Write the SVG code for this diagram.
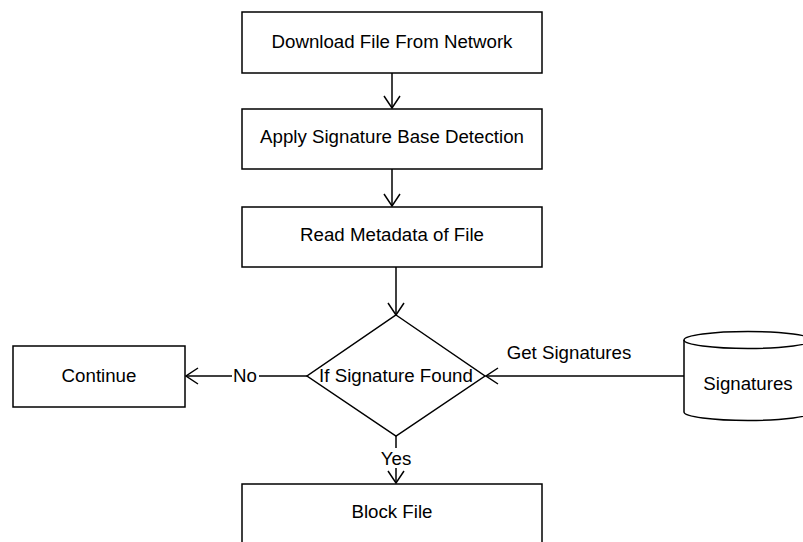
<svg xmlns="http://www.w3.org/2000/svg" width="803" height="542" viewBox="0 0 803 542">
  <defs>
    <style>
      .box { fill: #ffffff; stroke: #000000; stroke-width: 1.5; }
      .edge { fill: none; stroke: #000000; stroke-width: 1.5; }
      .label { font-family: "Liberation Sans", Arial, sans-serif; font-size: 18.7px; fill: #000000; text-anchor: middle; }
    </style>
    <marker id="open-arrow" viewBox="0 0 14 18" refX="13" refY="9" markerWidth="14" markerHeight="18" markerUnits="userSpaceOnUse" orient="auto">
      <path d="M1,1 L13,9 L1,17" fill="none" stroke="#000000" stroke-width="1.5"/>
    </marker>
  </defs>
  <rect width="803" height="542" fill="#ffffff"/>

  <g id="connectors">
    <line class="edge" x1="392" y1="73" x2="392" y2="108" marker-end="url(#open-arrow)"/>
    <line class="edge" x1="392" y1="169" x2="392" y2="206" marker-end="url(#open-arrow)"/>
    <line class="edge" x1="396" y1="267" x2="396" y2="315" marker-end="url(#open-arrow)"/>
    <!-- No branch -->
    <line class="edge" x1="307" y1="376" x2="259" y2="376"/>
    <line class="edge" x1="232" y1="376" x2="186" y2="376" marker-end="url(#open-arrow)"/>
    <text class="label" x="245" y="382">No</text>
    <!-- Yes branch -->
    <line class="edge" x1="396" y1="436" x2="396" y2="448"/>
    <line class="edge" x1="396" y1="468" x2="396" y2="483" marker-end="url(#open-arrow)"/>
    <text class="label" x="396" y="465">Yes</text>
    <!-- Signatures lookup -->
    <line class="edge" x1="684" y1="376" x2="486" y2="376" marker-end="url(#open-arrow)"/>
    <text class="label" x="569" y="359">Get Signatures</text>
  </g>

  <g id="download">
    <rect class="box" x="242" y="12" width="300" height="61"/>
    <text class="label" x="392" y="48">Download File From Network</text>
  </g>

  <g id="apply-detection">
    <rect class="box" x="242" y="109" width="300" height="60"/>
    <text class="label" x="392" y="143">Apply Signature Base Detection</text>
  </g>

  <g id="read-metadata">
    <rect class="box" x="242" y="207" width="300" height="60"/>
    <text class="label" x="392" y="241">Read Metadata of File</text>
  </g>

  <g id="signature-found">
    <polygon class="box" points="396,315 485,376 396,436 307,376"/>
    <text class="label" x="396" y="382">If Signature Found</text>
  </g>

  <g id="continue">
    <rect class="box" x="13" y="346" width="172" height="61"/>
    <text class="label" x="99" y="382">Continue</text>
  </g>

  <g id="block-file">
    <rect class="box" x="242" y="484" width="300" height="70"/>
    <text class="label" x="392" y="518">Block File</text>
  </g>

  <g id="signatures">
    <path class="box" d="M684,340 A64,8.5 0 0 1 812,340 V412 A64,8.5 0 0 1 684,412 Z"/>
    <path class="edge" d="M684,340 A64,8.5 0 0 0 812,340"/>
    <text class="label" x="748" y="390">Signatures</text>
  </g>
</svg>
